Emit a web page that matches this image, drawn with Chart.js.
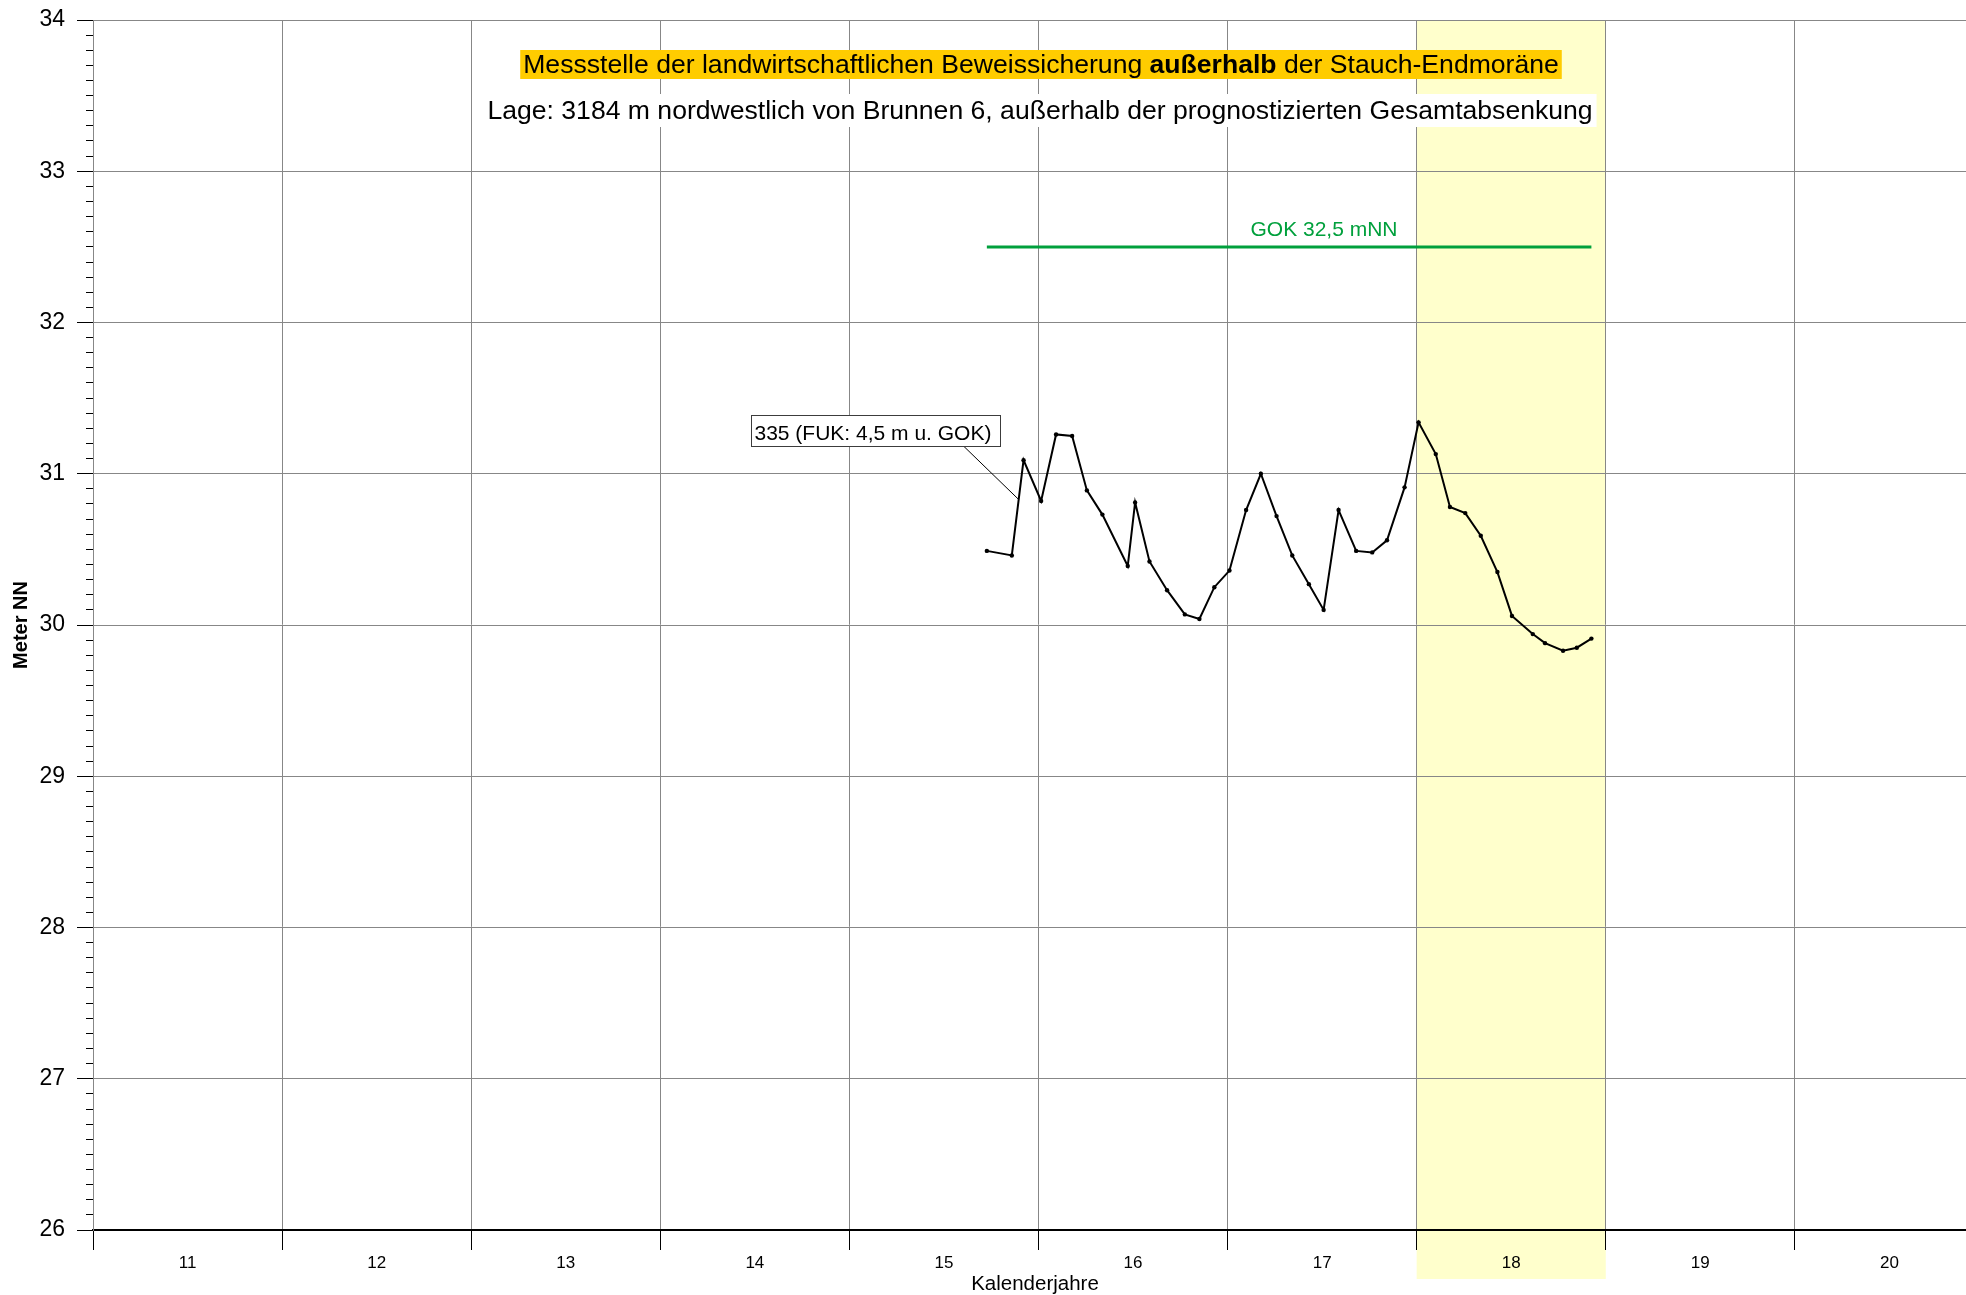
<!DOCTYPE html>
<html>
<head>
<meta charset="utf-8">
<script src="https://cdn.jsdelivr.net/npm/chart.js@4/dist/chart.umd.min.js"></script>
<style>
  html, body { margin: 0; padding: 0; background: #fff; overflow: hidden; }
  canvas { display: block; }
</style>
</head>
<body>
<canvas id="chart" width="1966" height="1295"></canvas>
<script>
// Calendar years on the x axis (20xx), labelled in the middle of each year
const yearStarts = [11, 12, 13, 14, 15, 16, 17, 18, 19, 20];
const yearLabels = ['11', '12', '13', '14', '15', '16', '17', '18', '19', '20'];
const highlightYear = 18;

// Groundwater level of well 335, date as decimal year, level in m NN
const dates = [
  15.727, 15.859, 15.921, 16.014, 16.093, 16.178, 16.256, 16.338, 16.472, 16.511,
  16.587, 16.680, 16.774, 16.851, 16.930, 17.010, 17.098, 17.176, 17.259, 17.342,
  17.430, 17.508, 17.587, 17.680, 17.765, 17.843, 17.936, 18.010, 18.101, 18.176,
  18.257, 18.339, 18.427, 18.504, 18.614, 18.679, 18.774, 18.847, 18.924
];
const levels = [
  30.49, 30.46, 31.09, 30.82, 31.26, 31.25, 30.89, 30.73, 30.39, 30.81,
  30.42, 30.23, 30.07, 30.04, 30.25, 30.36, 30.76, 31.00, 30.72, 30.46,
  30.27, 30.10, 30.76, 30.49, 30.48, 30.56, 30.91, 31.34, 31.13, 30.78,
  30.74, 30.59, 30.35, 30.06, 29.94, 29.88, 29.83, 29.85, 29.91
];

// Ground surface level (GOK)
const gokLevel = 32.5;
const gokLabel = 'GOK 32,5 mNN';

// Series label and the point on the curve its leader line points to
const wellLabel = '335 (FUK: 4,5 m u. GOK)';
const wellLabelAnchor = { x: 15.895, y: 30.83 };

const titleParts = [
  ['Messstelle der landwirtschaftlichen Beweissicherung ', false],
  ['außerhalb', true],
  [' der Stauch-Endmoräne', false]
];
const subtitle = 'Lage: 3184 m nordwestlich von Brunnen 6, außerhalb der prognostizierten Gesamtabsenkung';
const xTitle = 'Kalenderjahre';

const FONT = "'Liberation Sans', Arial, Helvetica, sans-serif";
const GRID = '#878787';
const GREEN = '#00a03c';
const CLEAR = 'rgba(0,0,0,0)';

const isYearStart = c => c.tick && Number.isInteger(c.tick.value);

// Light yellow band behind the highlighted year, reaching down over its label
const bandPlugin = {
  id: 'yearBand',
  beforeDraw(chart) {
    const { ctx, chartArea, scales } = chart;
    const x0 = scales.x.getPixelForValue(highlightYear);
    const x1 = scales.x.getPixelForValue(highlightYear + 1);
    ctx.save();
    ctx.fillStyle = '#ffffcc';
    ctx.fillRect(x0, chartArea.top, x1 - x0, chartArea.bottom + 49 - chartArea.top);
    ctx.restore();
  }
};

function fitSize(ctx, parts, width) {
  let w = 0;
  parts.forEach(([t, bold]) => {
    ctx.font = (bold ? 'bold ' : '') + '100px ' + FONT;
    w += ctx.measureText(t).width;
  });
  return 100 * width / w;
}

// Headings, axis caption, GOK caption and the boxed series label
const textPlugin = {
  id: 'texts',
  afterDraw(chart) {
    const { ctx, scales } = chart;
    const sx = scales.x, sy = scales.y;
    ctx.save();

    // title with highlighted background
    const tSize = fitSize(ctx, titleParts, 1036);
    let tw = 0;
    const widths = titleParts.map(([t, bold]) => {
      ctx.font = (bold ? 'bold ' : '') + tSize + 'px ' + FONT;
      const w = ctx.measureText(t).width;
      tw += w;
      return w;
    });
    const tcx = 1041;
    ctx.fillStyle = '#ffcc00';
    ctx.fillRect(tcx - tw / 2 - 3, 50, tw + 6, 29);
    ctx.fillStyle = '#000';
    ctx.textBaseline = 'alphabetic';
    ctx.textAlign = 'left';
    let x = tcx - tw / 2;
    titleParts.forEach(([t, bold], i) => {
      ctx.font = (bold ? 'bold ' : '') + tSize + 'px ' + FONT;
      ctx.fillText(t, x, 72.5);
      x += widths[i];
    });

    // subtitle on white
    const sSize = fitSize(ctx, [[subtitle, false]], 1106);
    ctx.font = sSize + 'px ' + FONT;
    const sw = ctx.measureText(subtitle).width;
    ctx.fillStyle = '#fff';
    ctx.fillRect(1040 - sw / 2 - 4, 94, sw + 8, 33);
    ctx.fillStyle = '#000';
    ctx.textAlign = 'center';
    ctx.fillText(subtitle, 1040, 119);

    // x axis caption
    ctx.font = '20.5px ' + FONT;
    ctx.fillText(xTitle, 1035, 1289.5);

    // GOK caption above the green line
    ctx.font = '21px ' + FONT;
    ctx.fillStyle = GREEN;
    ctx.fillText(gokLabel, sx.getPixelForValue(17.51), sy.getPixelForValue(gokLevel) - 11);

    // boxed series label with leader line
    const bx = 751.5, by = 415.5, bw = 249, bh = 31;
    ctx.strokeStyle = '#000';
    ctx.lineWidth = 1;
    ctx.beginPath();
    ctx.moveTo(964, by + bh);
    ctx.lineTo(sx.getPixelForValue(wellLabelAnchor.x), sy.getPixelForValue(wellLabelAnchor.y));
    ctx.stroke();
    ctx.fillStyle = '#fff';
    ctx.fillRect(bx, by, bw, bh);
    ctx.strokeStyle = '#3c3c3c';
    ctx.strokeRect(bx, by, bw, bh);
    ctx.fillStyle = '#000';
    ctx.textAlign = 'left';
    ctx.font = '21px ' + FONT;
    ctx.fillText(wellLabel, bx + 3, 440);

    ctx.restore();
  }
};

new Chart(document.getElementById('chart'), {
  type: 'line',
  data: {
    datasets: [
      {
        label: '335',
        data: dates.map((d, i) => ({ x: d, y: levels[i] })),
        borderColor: '#000',
        borderWidth: 2,
        pointRadius: 2.2,
        pointBackgroundColor: '#000',
        pointBorderWidth: 0,
        tension: 0,
        order: 1
      },
      {
        label: 'GOK',
        data: [{ x: dates[0], y: gokLevel }, { x: dates[dates.length - 1], y: gokLevel }],
        borderColor: GREEN,
        borderWidth: 3,
        pointRadius: 0,
        tension: 0,
        order: 2
      }
    ]
  },
  options: {
    responsive: false,
    animation: false,
    devicePixelRatio: 1,
    layout: { autoPadding: false, padding: { top: 20, right: 0, bottom: 0, left: 0 } },
    plugins: { legend: { display: false }, tooltip: { enabled: false } },
    scales: {
      x: {
        type: 'linear',
        min: 11,
        max: 20.905,
        position: 'bottom',
        afterBuildTicks: s => {
          s.ticks = [];
          yearStarts.forEach(y => { s.ticks.push({ value: y }); s.ticks.push({ value: y + 0.5 }); });
        },
        afterFit: s => { s.height = 65; s.paddingLeft = 0; s.paddingRight = 0; },
        grid: {
          color: c => isYearStart(c) ? GRID : CLEAR,
          tickColor: c => isYearStart(c) ? '#000' : CLEAR,
          tickLength: 20,
          lineWidth: 1
        },
        border: { color: '#000', width: 2 },
        ticks: {
          autoSkip: false,
          maxRotation: 0,
          padding: 3.5,
          color: '#000',
          font: { family: FONT, size: 17 },
          callback: v => Number.isInteger(v) ? '' : yearLabels[Math.floor(v) - yearStarts[0]]
        }
      },
      y: {
        min: 26,
        max: 34,
        position: 'left',
        weight: 1,
        afterFit: s => { s.width = 93; s.paddingTop = 0; s.paddingBottom = 0; },
        ticks: { stepSize: 1, padding: 12, color: '#000', font: { family: FONT, size: 23 } },
        grid: { color: GRID, tickColor: '#000', tickLength: 16, lineWidth: 1 },
        border: { color: GRID, width: 1 },
        title: {
          display: true,
          text: 'Meter NN',
          color: '#000',
          font: { family: FONT, size: 20, weight: 'bold' },
          padding: { top: 9, bottom: 0 }
        }
      },
      yMinor: {
        type: 'linear',
        min: 26,
        max: 34,
        position: 'left',
        weight: 0,
        afterBuildTicks: s => {
          s.ticks = [];
          for (let i = 0; i <= 80; i++) s.ticks.push({ value: 26 + i / 10 });
        },
        afterFit: s => { s.width = 0; s.paddingTop = 0; s.paddingBottom = 0; },
        ticks: { display: false },
        grid: { drawOnChartArea: false, tickColor: '#000', tickLength: 7, lineWidth: 1 },
        border: { display: false }
      }
    }
  },
  plugins: [bandPlugin, textPlugin]
});
</script>
</body>
</html>
